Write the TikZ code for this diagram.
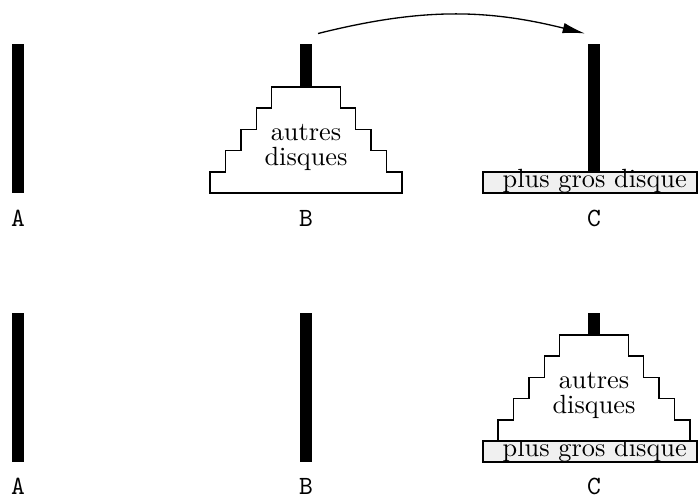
\documentclass[tikz,border=0pt]{standalone}
\usetikzlibrary{arrows.meta}

% pile of the other disks, bottom centre #1, text node #2
\newcommand{\pile}[2]{%
  \begin{scope}[shift={#1}]
    \draw[line width=0.6pt, fill=white] (-96,0) -- (-96,-21.2) -- (-80.5,-21.2) -- (-80.5,-42.4)
      -- (-65,-42.4) -- (-65,-63.6) -- (-49.5,-63.6) -- (-49.5,-84.8)
      -- (-34.5,-84.8) -- (-34.5,-106) -- (34.5,-106) -- (34.5,-84.8)
      -- (49.5,-84.8) -- (49.5,-63.6) -- (65,-63.6) -- (65,-42.4)
      -- (80.5,-42.4) -- (80.5,-21.2) -- (96,-21.2) -- (96,0) -- cycle;
    \node[align=center, inner sep=0pt] (#2) at (0,-45.5) {autres\\[-2.4pt]disques};
  \end{scope}}

\begin{document}
\begin{tikzpicture}[
  x=0.38pt, y=-0.38pt,
  peg/.style={rectangle, fill=black, inner sep=0pt, minimum width=4.56pt, minimum height=56.6pt},
  plate/.style={rectangle, draw, line width=0.6pt, fill=black!6, inner sep=0pt, minimum width=81.3pt,
    minimum height=8pt, text height=5.8pt, text depth=2.2pt},
  lbl/.style={font=\ttfamily, inner sep=0pt},
  move/.style={line width=0.5pt, -{Latex[length=8.5pt,width=4pt]}}
]
\useasboundingbox (0,0) rectangle (699,497);

% Before
\node[peg] (pegA1) at (18,118.5) {};
\node[peg] (pegB1) at (306,118.5) {};
\node[peg] (pegC1) at (594,118.5) {};
\pile{(306,193)}{restB1}
\node[plate] (bigC1) at (590,182.5) {\hspace*{3.6pt}plus gros disque};
\node[lbl] (labA1) at (18,218) {A};
\node[lbl] (labB1) at (306,218) {B};
\node[lbl] (labC1) at (594,218) {C};

\draw[move] ([shift={(12,-10)}]pegB1.north) to[bend left=14] ([shift={(-9,-10)}]pegC1.north);

% After
\node[peg] (pegA2) at (18,387.5) {};
\node[peg] (pegB2) at (306,387.5) {};
\node[peg] (pegC2) at (594,387.5) {};
\node[plate] (bigC2) at (590,451.5) {\hspace*{3.6pt}plus gros disque};
\pile{(594,441)}{restC2}
\node[lbl] (labA2) at (18,486) {A};
\node[lbl] (labB2) at (306,486) {B};
\node[lbl] (labC2) at (594,486) {C};
\end{tikzpicture}
\end{document}
